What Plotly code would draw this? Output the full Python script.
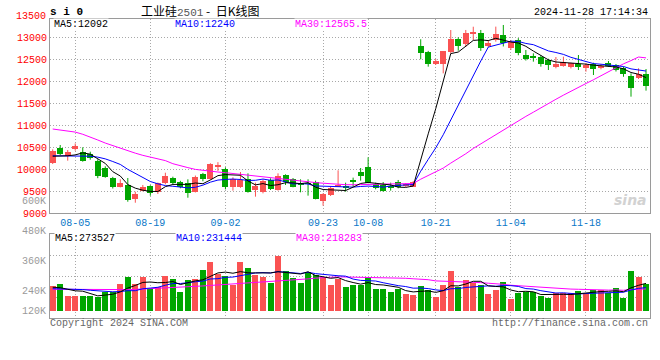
import plotly.graph_objects as go

# ---------------- data ----------------
dates = ["07-31",
         "08-01", "08-02", "08-05", "08-06", "08-07", "08-08", "08-09", "08-12", "08-13", "08-14",
         "08-15", "08-16", "08-19", "08-20", "08-21", "08-22", "08-23", "08-26", "08-27", "08-28",
         "08-29", "08-30",
         "09-02", "09-03", "09-04", "09-05", "09-06", "09-09", "09-10", "09-11", "09-12", "09-13",
         "09-18", "09-19", "09-20", "09-23", "09-24", "09-25", "09-26", "09-27", "09-30",
         "10-08", "10-09", "10-10", "10-11", "10-14", "10-15", "10-16", "10-17", "10-18", "10-21",
         "10-22", "10-23", "10-24", "10-25", "10-28", "10-29", "10-30", "10-31",
         "11-01", "11-04", "11-05", "11-06", "11-07", "11-08", "11-11", "11-12", "11-13", "11-14",
         "11-15", "11-18", "11-19", "11-20", "11-21", "11-22", "11-25", "11-26", "11-27", "11-28"]

opens = [10153, 10480, 10313, 10457, 10400, 10351, 10191, 10039, 9811, 9606,
         9645, 9326, 9516, 9622, 9478, 9683, 9797, 9720, 9697, 9492,
         9895, 9781, 10070, 10009, 9607, 9607, 9781, 9531, 9478, 9759,
         9531, 9873, 9781, 9698, 9683, 9721, 9280, 9417, 9607, 9607,
         9759, 9941, 10055, 9660, 9645, 9622, 9721, 9630, 9607, 12811,
         12680, 12409, 12409, 12682, 12971, 12849, 13092, 13100, 12819, 12948,
         13062, 12758, 12948, 12606, 12568, 12553, 12492, 12340, 12363, 12340,
         12393, 12302, 12393, 12302, 12416, 12378, 12302, 12135, 12074, 12181]
highs = [10457, 10556, 10442, 10592, 10503, 10403, 10230, 10070, 9830, 9774,
         9804, 9492, 9645, 9640, 9700, 9925, 9834, 9740, 9774, 9860,
         9920, 10140, 10165, 10047, 9820, 9940, 9910, 9698, 9774, 9797,
         9910, 9888, 9804, 9774, 9774, 9744, 9455, 9607, 9979, 9698,
         9812, 10032, 10275, 9698, 9713, 9698, 9759, 9690, 9736, 12964,
         12700, 12515, 12697, 13175, 13009, 13176, 13250, 13176, 12948, 13252,
         13290, 12948, 12990, 12720, 12644, 12600, 12520, 12560, 12568, 12430,
         12606, 12420, 12430, 12400, 12470, 12400, 12340, 12188, 12302, 12287]
lows = [10123, 10328, 10199, 10427, 10176, 10220, 9800, 9810, 9565, 9590,
        9264, 9241, 9500, 9400, 9440, 9660, 9660, 9570, 9355, 9475,
        9730, 9765, 9965, 9546, 9516, 9580, 9470, 9379, 9455, 9531,
        9516, 9645, 9592, 9478, 9402, 9318, 9174, 9394, 9600, 9493,
        9607, 9744, 9683, 9546, 9493, 9516, 9569, 9600, 9600, 12508,
        12340, 12378, 12188, 12640, 12704, 12795, 12948, 12700, 12780, 12910,
        12800, 12720, 12600, 12480, 12454, 12340, 12264, 12302, 12340, 12300,
        12264, 12226, 12150, 12280, 12340, 12230, 12110, 11657, 12060, 11794]
closes = [10419, 10351, 10389, 10530, 10195, 10270, 9850, 9834, 9592, 9697,
          9303, 9440, 9599, 9455, 9683, 9857, 9697, 9590, 9470, 9834,
          9781, 10123, 10080, 9592, 9774, 9760, 9478, 9630, 9744, 9554,
          9850, 9705, 9607, 9660, 9668, 9333, 9440, 9584, 9645, 9592,
          9721, 9857, 9698, 9569, 9516, 9592, 9607, 9668, 9721, 12644,
          12410, 12469, 12697, 12971, 12819, 13100, 13105, 12758, 12887, 13084,
          12872, 12910, 12644, 12508, 12545, 12401, 12378, 12401, 12454, 12416,
          12340, 12378, 12280, 12363, 12378, 12264, 12170, 11860, 12166, 11890]

ma5 = [10300, 10300, 10310, 10330, 10377, 10347, 10247, 10136, 9948, 9849,
       9655, 9573, 9526, 9499, 9496, 9607, 9658, 9656, 9659, 9690,
       9674, 9760, 9858, 9882, 9870, 9866, 9737, 9647, 9677, 9633,
       9651, 9697, 9692, 9675, 9698, 9595, 9542, 9537, 9534, 9519,
       9596, 9680, 9703, 9687, 9672, 9646, 9596, 9590, 9621, 10246,
       10810, 11382, 11988, 12638, 12673, 12811, 12938, 12951, 12934, 12987,
       12941, 12902, 12879, 12804, 12696, 12602, 12495, 12447, 12436, 12410,
       12398, 12398, 12374, 12355, 12348, 12333, 12291, 12207, 12168, 12092]
ma10 = [10310, 10310, 10310, 10310, 10305, 10300, 10280, 10240, 10180, 10113,
        10001, 9910, 9831, 9724, 9672, 9631, 9616, 9591, 9579, 9593,
        9641, 9709, 9757, 9771, 9780, 9770, 9748, 9752, 9780, 9752,
        9759, 9717, 9669, 9676, 9666, 9623, 9619, 9615, 9605, 9608,
        9596, 9611, 9620, 9611, 9596, 9621, 9638, 9647, 9654, 9959,
        10228, 10489, 10789, 11130, 11460, 11811, 12160, 12469, 12786, 12830,
        12876, 12920, 12915, 12869, 12841, 12771, 12699, 12663, 12620, 12553,
        12500, 12447, 12410, 12396, 12379, 12365, 12344, 12290, 12262, 12240]
ma30 = [10920, 10900, 10880, 10850, 10800, 10740, 10670, 10600, 10540, 10480,
        10420, 10370, 10320, 10280, 10240, 10200, 10130, 10080, 10040, 10000,
        9975, 9955, 9940, 9925, 9905, 9895, 9870, 9850, 9830, 9819,
        9800, 9780, 9760, 9740, 9720, 9700, 9685, 9670, 9660, 9652,
        9650, 9652, 9655, 9658, 9662, 9665, 9668, 9672, 9679, 9777,
        9864, 9943, 10030, 10143, 10244, 10356, 10477, 10581, 10686, 10803,
        10904, 11011, 11112, 11207, 11303, 11405, 11503, 11597, 11691, 11785,
        11872, 11956, 12042, 12135, 12231, 12320, 12405, 12478, 12560, 12540]

volumes = [251000, 271000, 152000, 152000, 152000, 152000, 142000, 191000, 191000, 271000,
           340000, 271000, 340000, 215000, 234000, 350000, 320000, 191000, 310000, 320000,
           406000, 488000, 363000, 350000, 261000, 488000, 429000, 356000, 340000, 274000,
           548000, 399000, 330000, 280000, 389000, 356000, 340000, 257000, 314000, 238000,
           261000, 261000, 333000, 218000, 218000, 188000, 218000, 168000, 155000, 248000,
           208000, 139000, 257000, 396000, 238000, 307000, 274000, 257000, 168000, 208000,
           287000, 119000, 175000, 185000, 185000, 152000, 129000, 175000, 182000, 175000,
           201000, 175000, 208000, 208000, 182000, 228000, 129000, 396000, 337000, 267000]
vma5 = [235000, 231000, 215000, 200000, 196000, 176000, 150000, 158000, 166000, 189000,
        227000, 253000, 283000, 287000, 280000, 282000, 292000, 262000, 281000, 298000,
        309000, 343000, 377000, 385000, 374000, 390000, 378000, 377000, 375000, 377000,
        389000, 383000, 378000, 366000, 389000, 351000, 339000, 324000, 331000, 301000,
        282000, 266000, 281000, 262000, 258000, 244000, 235000, 202000, 189000, 195000,
        199000, 184000, 201000, 250000, 248000, 267000, 294000, 294000, 249000, 243000,
        239000, 208000, 191000, 195000, 190000, 163000, 165000, 165000, 165000, 163000,
        172000, 182000, 188000, 193000, 195000, 200000, 191000, 229000, 254000, 273527]
vma10 = [221000, 220000, 218000, 215000, 212000, 205000, 198000, 192000, 190000, 193000,
         201000, 201000, 220000, 227000, 235000, 255000, 272000, 272000, 284000, 289000,
         296000, 317000, 320000, 333000, 336000, 350000, 361000, 377000, 380000, 376000,
         390000, 381000, 378000, 371000, 383000, 370000, 361000, 351000, 349000, 345000,
         316000, 303000, 303000, 297000, 280000, 263000, 251000, 242000, 226000, 227000,
         222000, 209000, 202000, 220000, 222000, 233000, 239000, 248000, 249000, 245000,
         253000, 251000, 243000, 222000, 217000, 201000, 187000, 178000, 180000, 176000,
         168000, 173000, 177000, 179000, 179000, 186000, 186000, 208000, 224000, 231444]
vma30 = [215000, 214000, 213000, 212000, 211000, 210000, 209000, 209000, 209000, 210000,
         212000, 214000, 217000, 220000, 223000, 227000, 231000, 235000, 239000, 243000,
         248000, 253000, 258000, 263000, 268000, 273000, 277000, 280000, 283000, 286000,
         296000, 300000, 306000, 310000, 318000, 325000, 332000, 334000, 338000, 337000,
         334000, 334000, 334000, 334000, 333000, 328000, 325000, 324000, 319000, 316000,
         310000, 298000, 295000, 296000, 296000, 290000, 284000, 281000, 275000, 273000,
         264000, 255000, 250000, 247000, 240000, 233000, 226000, 223000, 219000, 217000,
         215000, 212000, 208000, 208000, 207000, 208000, 205000, 213000, 219000, 218283]

price_ticks = [9000, 9500, 10000, 10500, 11000, 11500, 12000, 12500, 13000]
price_top_label = "13500"
date_ticks = ["08-05", "08-19", "09-02", "09-23", "10-08", "10-21", "11-04", "11-18"]
vol_labels = ["600K", "480K", "360K", "240K", "120K"]
main_legend = [("MA5:12092", "#000000"), ("MA10:12240", "#0000ff"), ("MA30:12565.5", "#ff00ff")]
vol_legend = [("MA5:273527", "#000000"), ("MA10:231444", "#0000ff"), ("MA30:218283", "#ff00ff")]

# ---------------- layout geometry ----------------
W, H = 660, 360
ML, MR, MT, MB = 50, 10, 19, 42
PW, PH = W - ML - MR, H - MT - MB


def fx(px):
    return (px - ML) / PW


def fy(py):
    return (H - MB - py) / PH


MONO = "Liberation Mono, DejaVu Sans Mono, monospace"
UP, DN = "#fa5252", "#00a600"
GRID = "#a8a8a8"
BORDER = "#9a9a9a"
DOT = "1px,2px"

colors = [UP if c >= o else DN for o, c in zip(opens, closes)]
body_base = [min(o, c) for o, c in zip(opens, closes)]
body_h = [max(abs(c - o), 20) for o, c in zip(opens, closes)]

fig = go.Figure()

# wicks
for col in (UP, DN):
    xs, ys = [], []
    for d, h, l, cc in zip(dates, highs, lows, colors):
        if cc == col:
            xs += [d, d, None]
            ys += [l, h, None]
    fig.add_trace(go.Scatter(x=xs, y=ys, mode="lines", line=dict(color=col, width=1),
                             hoverinfo="skip", showlegend=False, xaxis="x", yaxis="y"))

# bodies
fig.add_trace(go.Bar(x=dates, y=body_h, base=body_base, width=0.8,
                     marker=dict(color=colors, line=dict(width=0)),
                     showlegend=False, xaxis="x", yaxis="y"))

# price moving averages
for arr, col in ((ma30, "#ff00ff"), (ma10, "#0000ff"), (ma5, "#000000")):
    fig.add_trace(go.Scatter(x=dates, y=arr, mode="lines", line=dict(color=col, width=1),
                             showlegend=False, xaxis="x", yaxis="y"))

# volume bars
fig.add_trace(go.Bar(x=dates, y=volumes, width=0.8,
                     marker=dict(color=colors, line=dict(width=0)),
                     showlegend=False, xaxis="x2", yaxis="y2"))
for arr, col in ((vma30, "#ff00ff"), (vma10, "#0000ff"), (vma5, "#000000")):
    fig.add_trace(go.Scatter(x=dates, y=arr, mode="lines", line=dict(color=col, width=1),
                             showlegend=False, xaxis="x2", yaxis="y2"))

# ---------------- axes ----------------
px_per_price = 21.95 / 500.0
main_bottom_px, main_top_px = 213.3, 19
price_range = [9000, 9000 + (main_bottom_px - main_top_px) / px_per_price]

vol_per_px = 9900
vol_zero_px, vol_top_px, vol_bottom_px = 311, 234, 318
vol_range = [-(vol_bottom_px - vol_zero_px) * vol_per_px, (vol_zero_px - vol_top_px) * vol_per_px]
vol_dtick = (vol_range[1] - vol_range[0]) / 4

xrange = [-0.36, 79.53]
common_x = dict(type="category", categoryorder="array", categoryarray=dates, range=xrange,
                tickvals=date_ticks, ticktext=date_ticks, ticks="", showgrid=True,
                gridcolor=GRID, griddash=DOT, gridwidth=1, showline=True, mirror=True,
                linecolor=BORDER, linewidth=1, zeroline=False, fixedrange=True,
                automargin=False)

fig.update_layout(
    template="none",
    width=W, height=H,
    margin=dict(l=ML, r=MR, t=MT, b=MB, pad=0, autoexpand=False),
    paper_bgcolor="white", plot_bgcolor="white",
    font=dict(family=MONO, size=10, color="#000"),
    showlegend=False, bargap=0,
    xaxis=dict(domain=[0, 1], anchor="y", tickfont=dict(family=MONO, size=10, color="#0a78c8"),
               **common_x),
    yaxis=dict(domain=[fy(main_bottom_px), 1], anchor="x", range=price_range,
               tickvals=price_ticks, ticktext=[str(t) for t in price_ticks], ticks="",
               tickfont=dict(family=MONO, size=10, color="#ff0000"),
               showgrid=True, gridcolor=GRID, griddash=DOT, gridwidth=1,
               showline=True, mirror=True, linecolor=BORDER, linewidth=1,
               zeroline=False, fixedrange=True, automargin=False),
    xaxis2=dict(domain=[0, 1], anchor="y2", showticklabels=False, **common_x),
    yaxis2=dict(domain=[0, fy(vol_top_px)], anchor="x2", range=vol_range,
                tick0=vol_range[0], dtick=vol_dtick, showticklabels=False, ticks="",
                showgrid=True, gridcolor=GRID, griddash=DOT, gridwidth=1,
                showline=True, mirror=True, linecolor=BORDER, linewidth=1,
                zeroline=False, fixedrange=True, automargin=False),
)

# ---------------- texts ----------------
ann = []


def add_text(text, x, y, xanchor="left", color="#000", size=10, family=MONO, bg=None):
    d = dict(text=text, x=fx(x), y=fy(y), xref="paper", yref="paper", xanchor=xanchor,
             yanchor="middle", showarrow=False, font=dict(family=family, size=size, color=color),
             borderpad=0)
    if bg:
        d["bgcolor"] = bg
    ann.append(d)


add_text("<b>s i 0</b>", 49, 12, size=11)
add_text("工业硅<span style='font-family:Liberation Mono;font-size:11px;color:#555'>2501</span> -  日K线图",
         140, 10.5, size=12, family="Noto Sans CJK SC")
add_text("2024-11-28 17:14:34", 649, 12, xanchor="right")
add_text(price_top_label, 47, 16, xanchor="right", color="#ff0000")

for (txt, col), x in zip(main_legend, (53, 174, 294)):
    add_text(txt, x, 24.5, color=col, bg="white")
for (txt, col), x in zip(vol_legend, (54, 175, 295)):
    add_text(txt, x, 238.5, color=col, bg="white")

for lab, y in zip(vol_labels, (201.5, 231, 261, 291, 311)):
    add_text(lab, 47, y, xanchor="right", color="#9a9a9a")

add_text("Copyright 2024 SINA.COM", 49, 323, color="#666666")
add_text("http://finance.sina.com.cn", 649, 323, xanchor="right", color="#666666")
add_text("<b><i>sina</i></b>", 630, 200, xanchor="center", color="#d2d2d2", size=14,
         family="DejaVu Sans")

fig.update_layout(annotations=ann)

# the page's default 8px body margin would shift the 660x360 figure; remove it
fig.write_html("out.html", config={"displayModeBar": False},
               post_script="document.body.style.margin='0';")
